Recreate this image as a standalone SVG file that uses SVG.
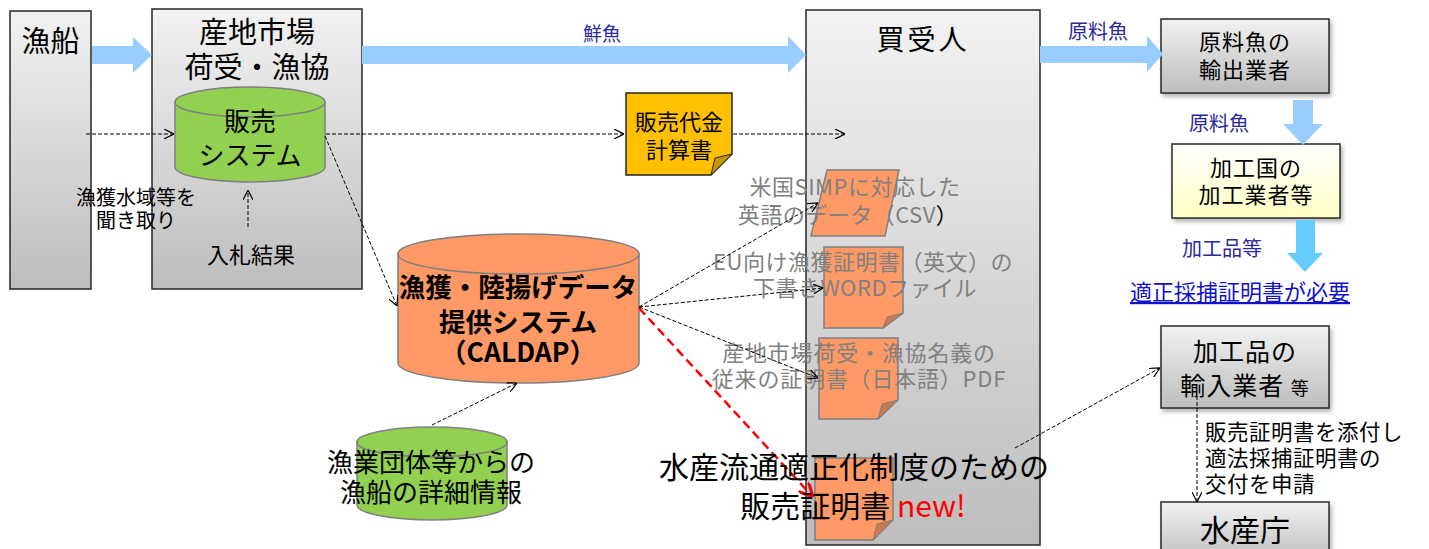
<svg xmlns="http://www.w3.org/2000/svg" width="1429" height="549" viewBox="0 0 1429 549">
<defs>
<linearGradient id="gGray" x1="0" y1="0" x2="0" y2="1"><stop offset="0" stop-color="#f2f2f2"/><stop offset="1" stop-color="#bdbdbd"/></linearGradient>
<linearGradient id="gYel" x1="0" y1="0" x2="0" y2="1"><stop offset="0" stop-color="#ffffff"/><stop offset="1" stop-color="#ffffc4"/></linearGradient>
<filter id="sh" x="-10%" y="-10%" width="130%" height="140%"><feDropShadow dx="2" dy="3" stdDeviation="2" flood-color="#000" flood-opacity="0.3"/></filter>
<marker id="ah" viewBox="0 0 10 10" refX="10" refY="5" markerWidth="10" markerHeight="10" markerUnits="userSpaceOnUse" orient="auto"><path d="M0,0 L10,5 L0,10" fill="none" stroke="#000" stroke-width="1.2"/></marker>
<marker id="ahr" viewBox="0 0 10 10" refX="9" refY="5" markerWidth="14" markerHeight="14" markerUnits="userSpaceOnUse" orient="auto"><path d="M0,0 L10,5 L0,10" fill="none" stroke="#ff0000" stroke-width="2.2"/></marker>
</defs>
<style>
text{font-family:"Noto Sans CJK JP","Noto Sans",sans-serif;fill:#000}
.box{fill:url(#gGray);stroke:#262626;stroke-width:1.5}
.blue{fill:#99ccff}
.lbl{fill:#2a2a9c;font-size:19px}
.dash{fill:none;stroke:#000;stroke-width:1;stroke-dasharray:4 2;marker-end:url(#ah)}
.doc{fill:#ff9966;stroke:#7f7f7f;stroke-width:1.5}
.fold{fill:#c97a50;stroke:#7f7f7f;stroke-width:1}
.gt{fill:#808080;font-size:22px}
.c{text-anchor:middle}
</style>

<g id="fishing-boat">
<rect class="box" x="10" y="11" width="81" height="278"/>
<text class="c" x="50.5" y="52" font-size="29">漁船</text>
</g>

<g id="market">
<rect class="box" x="152" y="9" width="210" height="280"/>
<text class="c" x="257" y="43" font-size="29">産地市場</text>
<text class="c" x="257" y="78" font-size="29">荷受・漁協</text>
</g>

<g id="sales-system">
<path d="M175,102 L175,167 A75,15 0 0 0 325,167 L325,102 Z" fill="#92d050" stroke="#7f7f7f" stroke-width="1.5"/>
<ellipse cx="250" cy="102" rx="75" ry="15" fill="#92d050" stroke="#7f7f7f" stroke-width="1.5"/>
<text class="c" x="250" y="131" font-size="26">販売</text>
<text class="c" x="250" y="165" font-size="26">システム</text>
</g>

<g id="hearing-label">
<text class="c" x="136" y="205" font-size="20">漁獲水域等を</text>
<text class="c" x="136" y="228" font-size="20">聞き取り</text>
</g>
<g id="bid-result">
<text class="c" x="251" y="263" font-size="22">入札結果</text>
</g>

<g id="buyer">
<rect class="box" x="806" y="10" width="234" height="535"/>
<text class="c" x="923" y="50" font-size="28" letter-spacing="3">買受人</text>
</g>

<g id="calc-doc">
<path d="M626,93 H732 V154 L711,175 H626 Z" fill="#ffc000" stroke="#262626" stroke-width="1.5"/>
<path d="M732,154 L715,158 L711,175 Z" fill="#c79600" stroke="#262626" stroke-width="1"/>
<text class="c" x="679" y="130" font-size="22">販売代金</text>
<text class="c" x="679" y="158" font-size="22">計算書</text>
</g>

<g id="caldap">
<path d="M398,254 L398,363 A120.5,20 0 0 0 639,363 L639,254 Z" fill="#ff9966" stroke="#7f7f7f" stroke-width="1.5"/>
<ellipse cx="518.5" cy="254" rx="120.5" ry="20" fill="#ff9966" stroke="#7f7f7f" stroke-width="1.5"/>
<text class="c" x="518" y="297" font-size="26.5" font-weight="bold">漁獲・陸揚げデータ</text>
<text class="c" x="518" y="332" font-size="26.5" font-weight="bold">提供システム</text>
<text class="c" x="518" y="362" font-size="26.5" font-weight="bold">（CALDAP）</text>
</g>

<g id="fishery-groups">
<path d="M357,442 L357,505 A75,15 0 0 0 507,505 L507,442 Z" fill="#92d050" stroke="#7f7f7f" stroke-width="1.5"/>
<ellipse cx="432" cy="442" rx="75" ry="15" fill="#92d050" stroke="#7f7f7f" stroke-width="1.5"/>
<text class="c" x="431" y="472" font-size="26">漁業団体等からの</text>
<text class="c" x="431" y="502" font-size="26">漁船の詳細情報</text>
</g>

<g id="doc-csv">
<path class="doc" d="M827,170 L899,170 L885,236 L811,236 Z"/>
</g>
<g id="doc-word">
<path class="doc" d="M824,247 H903 V313 L883,328 H824 Z"/>
<path class="fold" d="M903,313 L887,317 L883,328 Z"/>
</g>
<g id="doc-pdf">
<path class="doc" d="M819,338 H898 V400 L878,419 H819 Z"/>
<path class="fold" d="M898,400 L882,404 L878,419 Z"/>
</g>
<g id="doc-sales-cert">
<path class="doc" d="M815,458 H893 V520 L873,540 H815 Z"/>
<path class="fold" d="M893,520 L877,524 L873,540 Z"/>
</g>

<g id="doc-labels">
<text class="gt c" x="855" y="195" letter-spacing="0.5">米国SIMPに対応した</text>
<text class="gt c" x="848" y="223" letter-spacing="0.5">英語のデータ（CSV<tspan fill="#000">）</tspan></text>
<text class="gt c" x="863" y="270" letter-spacing="0.5">EU向け漁獲証明書（英文）の</text>
<text class="gt c" x="865" y="296" letter-spacing="0.5">下書きWORDファイル</text>
<text class="gt c" x="859" y="361" letter-spacing="0.8">産地市場荷受・漁協名義の</text>
<text class="gt c" x="859" y="387" letter-spacing="0.8">従来の証明書（日本語）PDF</text>
</g>

<g id="exporter">
<rect class="box" x="1161" y="19" width="168" height="74" filter="url(#sh)"/>
<text class="c" x="1245" y="50" font-size="22" letter-spacing="1">原料魚の</text>
<text class="c" x="1245" y="78" font-size="22" letter-spacing="1">輸出業者</text>
</g>

<g id="processor">
<rect x="1172" y="144" width="168" height="74" fill="url(#gYel)" stroke="#262626" stroke-width="1.5" filter="url(#sh)"/>
<text class="c" x="1256" y="176" font-size="22" letter-spacing="1">加工国の</text>
<text class="c" x="1256" y="203" font-size="22" letter-spacing="1">加工業者等</text>
</g>

<g id="need-cert">
<text class="c" x="1240" y="300" font-size="22" style="fill:#1111cc" text-decoration="underline">適正採捕証明書が必要</text>
</g>

<g id="importer">
<rect class="box" x="1161" y="326" width="168" height="82" filter="url(#sh)"/>
<text class="c" x="1245" y="361" font-size="25" letter-spacing="1">加工品の</text>
<text class="c" x="1245" y="395" font-size="25" letter-spacing="1">輸入業者 <tspan font-size="18">等</tspan></text>
</g>

<g id="fisheries-agency">
<rect class="box" x="1161" y="502" width="168" height="60" filter="url(#sh)"/>
<text class="c" x="1245" y="541" font-size="30">水産庁</text>
</g>

<g id="apply-label">
<text x="1205" y="440" font-size="21.5" letter-spacing="0.5">販売証明書を添付し</text>
<text x="1205" y="466" font-size="21.5" letter-spacing="0.5">適法採捕証明書の</text>
<text x="1205" y="492" font-size="21.5" letter-spacing="0.5">交付を申請</text>
</g>

<g id="connectors">
<polygon class="blue" points="92,46 133,46 133,37 152,55 133,73 133,64 92,64"/>
<polygon class="blue" points="362,46 788,46 788,36 806,55 788,73 788,64 362,64"/>
<polygon class="blue" points="1040,46 1147,46 1147,36 1163,54 1147,72 1147,63 1040,63"/>
<polygon class="blue" points="1293,100 1313,100 1313,124 1323,124 1303,145 1283,124 1293,124"/>
<polygon points="1296,220 1315,220 1315,253 1323,253 1305,272 1287,253 1296,253" fill="#66ccff"/>
<text class="lbl c" x="602" y="41">鮮魚</text>
<text class="lbl c" x="1098" y="39" style="font-size:20px">原料魚</text>
<text class="lbl c" x="1219" y="131" style="font-size:20px">原料魚</text>
<text class="lbl c" x="1222" y="256" style="font-size:20px">加工品等</text>
<line class="dash" x1="86" y1="134" x2="174" y2="134"/>
<line class="dash" x1="248" y1="227" x2="248" y2="190"/>
<line class="dash" x1="326" y1="134" x2="624" y2="134"/>
<line class="dash" x1="733" y1="134" x2="845" y2="134"/>
<line class="dash" x1="325" y1="136" x2="397" y2="306"/>
<line class="dash" x1="432" y1="425" x2="517" y2="383"/>
<line class="dash" x1="639" y1="307" x2="818" y2="203"/>
<line class="dash" x1="639" y1="307" x2="823" y2="288"/>
<line class="dash" x1="639" y1="307" x2="818" y2="378"/>
<line x1="639" y1="308" x2="812" y2="496" stroke="#ff0000" stroke-width="2.5" stroke-dasharray="9 5" marker-end="url(#ahr)"/>
<line class="dash" x1="1015" y1="448" x2="1160" y2="368"/>
<line class="dash" x1="1197" y1="396" x2="1197" y2="502"/>
</g>

<g id="sales-cert-label">
<text class="c" x="854" y="478" font-size="30">水産流通適正化制度のための</text>
<text class="c" x="853" y="517" font-size="30">販売証明書 <tspan style="fill:#ff0000">new!</tspan></text>
</g>
</svg>
